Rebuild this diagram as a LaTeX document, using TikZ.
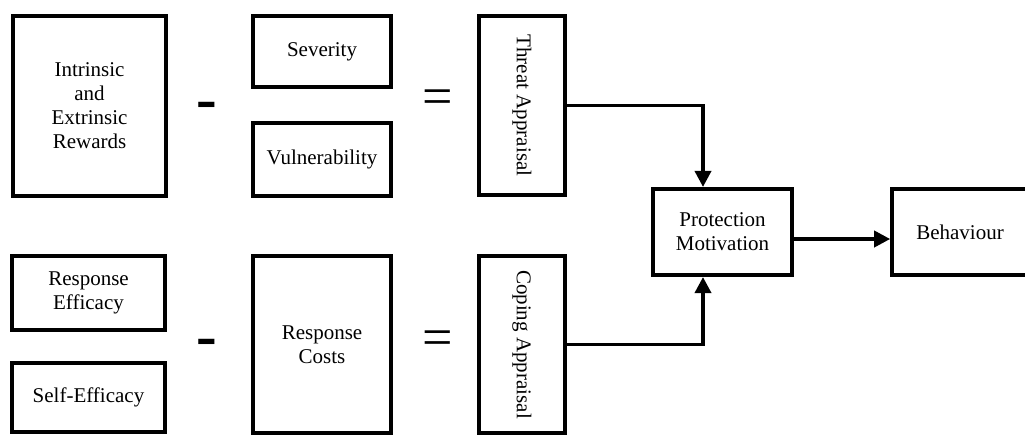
\documentclass[tikz,border=0pt]{standalone}
\usepackage{fontspec}
\setmainfont{Liberation Serif}
\usetikzlibrary{arrows.meta}
\begin{document}
\begin{tikzpicture}[x=1pt,y=-1pt,
  box/.style={draw, line width=3.6pt, align=center, inner sep=0pt,
    font=\fontsize{21}{24}\selectfont},
  vlabel/.style={rotate=-90, font=\fontsize{21}{24}\selectfont, inner sep=0pt},
  arr/.style={line width=3.6pt, -{Triangle[length=16pt,width=16pt]}},
  minus/.style={inner sep=0pt, anchor=base, font=\fontsize{62}{62}\selectfont\bfseries},
  equal/.style={inner sep=0pt, anchor=base, font=\fontsize{54}{54}\selectfont}]
\useasboundingbox (0,0) rectangle (1025,437);

% threat row
\node[box, minimum width=153.5pt, minimum height=180.5pt] (intr) at (89.5,106)
  {Intrinsic\\and\\Extrinsic\\Rewards};
\node[box, minimum width=138.5pt, minimum height=71.5pt] (sev) at (322,51.5) {Severity};
\node[box, minimum width=138.5pt, minimum height=73.5pt] (vul) at (322,159.5) {Vulnerability};
\node[box, minimum width=86.5pt, minimum height=179.5pt,
  label={[vlabel]center:Threat Appraisal}] (threat) at (522,105.5) {};
\node[minus] (m1) at (207,119) {-};
\node[equal] (e1) at (437.5,114.5) {=};

% coping row
\node[box, minimum width=153.5pt, minimum height=74.5pt] (reff) at (88.5,293)
  {Response\\Efficacy};
\node[box, minimum width=153.5pt, minimum height=69.5pt] (self) at (88.5,397.5) {Self-Efficacy};
\node[box, minimum width=138.5pt, minimum height=177.5pt] (cost) at (322,344.5)
  {Response\\Costs};
\node[box, minimum width=86.5pt, minimum height=177.5pt,
  label={[vlabel]center:Coping Appraisal}] (cope) at (522,344.5) {};
\node[minus] (m2) at (207,356) {-};
\node[equal] (e2) at (437.5,355.5) {=};

% right side
\node[box, minimum width=139.5pt, minimum height=86.5pt] (prot) at (722.5,232)
  {Protection\\Motivation};
\node[box, minimum width=136pt, minimum height=86.5pt] (beh) at (960,232) {Behaviour};

\draw[arr] (threat.east) -| ([xshift=-19.5pt]prot.north);
\draw[arr] (cope.east) -| ([xshift=-19.5pt]prot.south);
\draw[arr] ([yshift=-7pt]prot.east) -- ([yshift=-7pt]beh.west);
\end{tikzpicture}
\end{document}
